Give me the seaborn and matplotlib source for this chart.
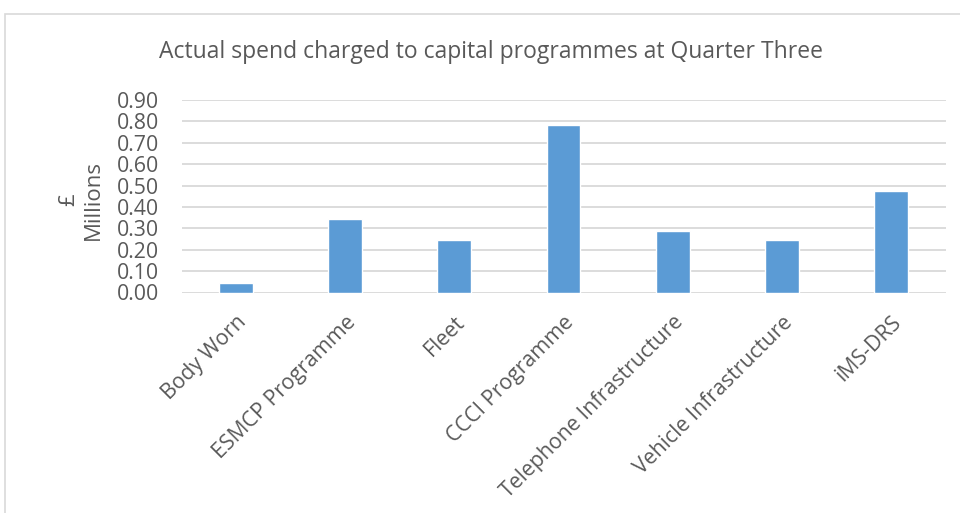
import matplotlib
matplotlib.use("Agg")
import matplotlib.pyplot as plt
import seaborn as sns
import pandas as pd
from matplotlib.patches import Rectangle

categories = ["Body Worn", "ESMCP Programme", "Fleet", "CCCI Programme",
              "Telephone Infrastructure", "Vehicle Infrastructure", "iMS-DRS"]
values = [0.045, 0.345, 0.247, 0.783, 0.289, 0.244, 0.473]
yticks = [0.0, 0.1, 0.2, 0.3, 0.4, 0.5, 0.6, 0.7, 0.8, 0.9]

sns.set_theme(style="white")
plt.rcParams['font.family'] = ['Open Sans', 'DejaVu Sans']

df = pd.DataFrame({"cat": categories, "val": values})

fig = plt.figure(figsize=(9.6, 5.13), dpi=100)
ax = fig.add_axes([181.5/960, 1-292.5/513, (945.5-181.5)/960, (292.5-100)/513])

sns.barplot(data=df, x="cat", y="val", color="#5b9bd5", width=0.31,
            saturation=1, ax=ax, zorder=3)

ax.set_ylim(0, 0.9)
ax.set_xlim(-0.5, len(categories)-0.5)
ax.set_yticks(yticks)
ax.set_yticklabels([f"{t:.2f}" for t in yticks], fontsize=15.3, color="#595959")
ax.set_xticks(range(len(categories)))
ax.set_xticklabels(categories, rotation=45, ha="right", rotation_mode="anchor",
                   fontsize=15.3, color="#595959")
ax.tick_params(axis="both", length=0)
ax.tick_params(axis="y", pad=16)
ax.tick_params(axis="x", pad=14)
ax.grid(axis="y", color="#d9d9d9", linewidth=1.3, zorder=0)
ax.set_axisbelow(True)
for s in ax.spines.values():
    s.set_visible(False)
ax.set_xlabel("")
ax.set_ylabel("£\nMillions", fontsize=16, color="#595959")
ax.yaxis.set_label_coords(-0.102, 0.48)

fig.text(491/960, 1-52/513, "Actual spend charged to capital programmes at Quarter Three",
         ha="center", va="center", fontsize=16.5, color="#595959")

fig.patches.append(Rectangle((5/960, -0.1), 1.2, 1-14/513+0.1, transform=fig.transFigure,
                             fill=False, edgecolor="#d9d9d9", linewidth=1.2))

fig.savefig("out.png", dpi=100)
